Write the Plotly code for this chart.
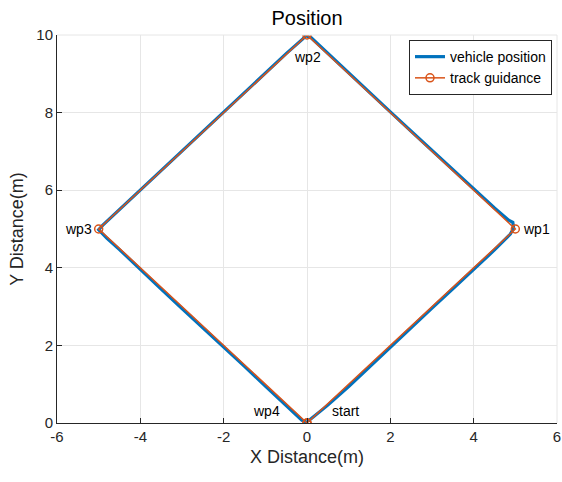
import plotly.graph_objects as go

# Track guidance waypoints
track_x = [0, 5, 0, -5, 0]
track_y = [0, 5, 10, 5, 0]

# Vehicle position
veh_x = [0.03, 0.5, 1.0, 1.5, 2.0, 2.5, 3.0, 3.5, 4.0, 4.5, 4.88, 4.96, 4.94,
         4.85, 4.5, 4.0, 3.5, 3.0, 2.5, 2.0, 1.5, 1.0, 0.5, 0.1, -0.03,
         -0.1, -0.5, -1.0, -1.5, -2.0, -2.5, -3.0, -3.5, -4.0, -4.5, -4.9, -5.0,
         -4.8, -4.5, -4.0, -3.5, -3.0, -2.5, -2.0, -1.5, -1.0, -0.5, -0.12, 0.0]
veh_y = [0.05, 0.46, 0.94, 1.45, 1.96, 2.45, 2.96, 3.46, 3.96, 4.46, 4.87, 5.02, 5.17,
         5.22, 5.54, 6.03, 6.52, 7.02, 7.52, 8.02, 8.52, 9.02, 9.52, 9.93, 9.98,
         9.9, 9.52, 9.02, 8.52, 8.02, 7.52, 7.02, 6.52, 6.02, 5.52, 5.1, 4.98,
         4.76, 4.47, 3.95, 3.45, 2.95, 2.46, 1.95, 1.46, 0.95, 0.46, 0.07, 0.02]

x_ticks = [-6, -4, -2, 0, 2, 4, 6]
x_tick_labels = ["-6", "-4", "-2", "0", "2", "4", "6"]
y_ticks = [0, 2, 4, 6, 8, 10]
y_tick_labels = ["0", "2", "4", "6", "8", "10"]

wp_labels = ["start", "wp1", "wp2", "wp3", "wp4"]
wp_label_x = [0.92, 5.14, 0.0, -5.12, -0.98]
wp_label_y = [0.3, 5.0, 9.43, 5.0, 0.3]

BLUE = "#0072BD"
ORANGE = "#D95319"
AX = "#262626"
FONT = "Liberation Sans, Arial, sans-serif"

W, H = 562, 482

fig = go.Figure()
fig.add_trace(go.Scatter(x=veh_x, y=veh_y, mode="lines", name="vehicle position",
                         line=dict(color=BLUE, width=3.2)))
fig.add_trace(go.Scatter(x=track_x, y=track_y, mode="lines+markers", name="track guidance",
                         line=dict(color=ORANGE, width=1.5),
                         marker=dict(symbol="circle-open", size=8, color=ORANGE,
                                     line=dict(width=1.5, color=ORANGE))))

anchors = ["center", "left", "center", "right", "center"]
for t, x, y, a in zip(wp_labels, wp_label_x, wp_label_y, anchors):
    fig.add_annotation(x=x, y=y, text=t, showarrow=False, xanchor=a, yanchor="middle",
                       font=dict(size=14, color="black", family=FONT))

axis_common = dict(showgrid=True, gridcolor="#E6E6E6", gridwidth=1, zeroline=False,
                   showline=True, linecolor=AX, linewidth=1, ticks="inside", ticklen=5,
                   tickcolor=AX, tickfont=dict(size=15, color=AX, family=FONT),
                   mirror=False, automargin=False)

fig.update_layout(
    width=W, height=H,
    margin=dict(l=57, r=5, t=35, b=59),
    paper_bgcolor="white", plot_bgcolor="white",
    font=dict(family=FONT, color=AX),
    title=dict(text="Position", x=307 / W, xref="container", xanchor="center",
               y=1 - 18 / H, yref="container", yanchor="middle",
               font=dict(size=20, color="black", family=FONT)),
    xaxis=dict(range=[-6, 6], tickvals=x_ticks, ticktext=x_tick_labels,
               title=dict(text="X Distance(m)", font=dict(size=18, color=AX, family=FONT), standoff=6),
               **axis_common),
    yaxis=dict(range=[0, 10], tickvals=y_ticks, ticktext=y_tick_labels,
               title=dict(text="Y Distance(m)", font=dict(size=18, color=AX, family=FONT), standoff=8),
               **axis_common),
    legend=dict(x=0.99, y=0.987, xanchor="right", yanchor="top", bgcolor="white",
                bordercolor="#262626", borderwidth=1,
                font=dict(size=14, color="black", family=FONT),
                itemwidth=30, tracegroupgap=0),
    showlegend=True,
)

# light top/right edges like the grid
fig.add_shape(type="line", xref="paper", yref="paper", x0=0, x1=1, y0=1, y1=1,
              line=dict(color="#E6E6E6", width=1))
fig.add_shape(type="line", xref="paper", yref="paper", x0=1, x1=1, y0=0, y1=1,
              line=dict(color="#E6E6E6", width=1))

fig.write_html(
    "out.html",
    config={"displayModeBar": False},
    post_script="document.documentElement.style.margin='0';document.body.style.margin='0';"
                "document.body.style.overflow='hidden';",
)
